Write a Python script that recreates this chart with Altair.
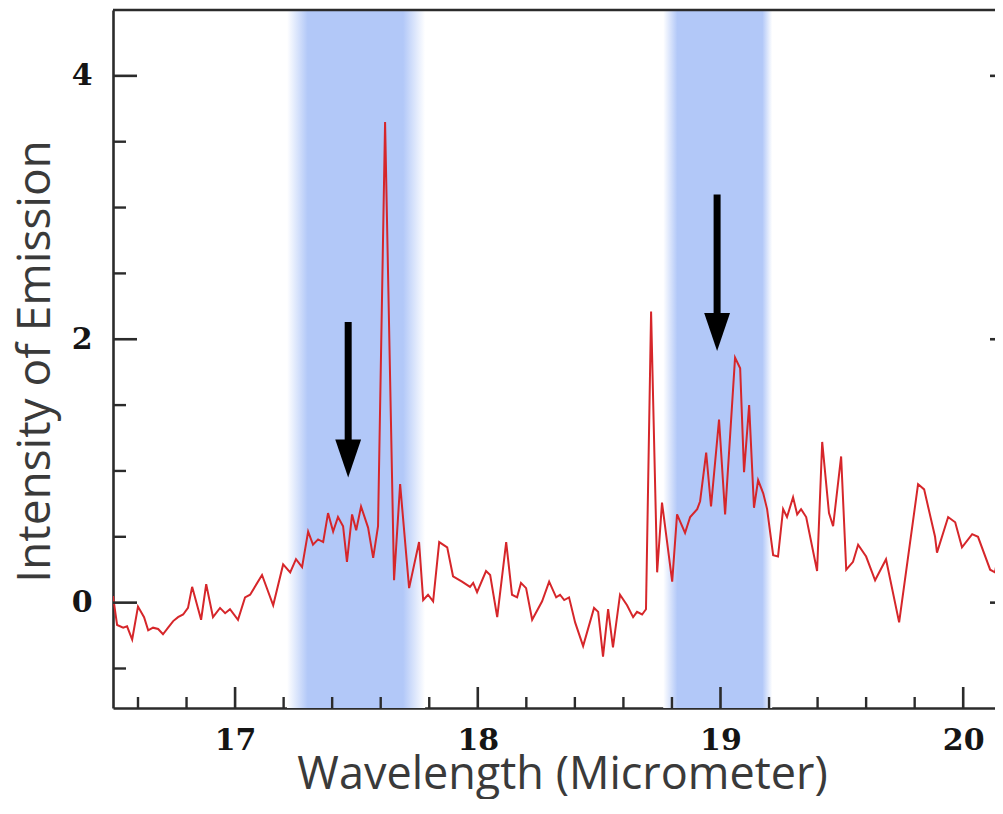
import altair as alt
import pandas as pd

# ---- spectrum (wavelength in micrometer, intensity of emission) ----
wavelength = [
    16.497, 16.514, 16.539, 16.555, 16.576, 16.600, 16.625, 16.642, 16.662, 16.683,
    16.703, 16.724, 16.745, 16.765, 16.786, 16.806, 16.823, 16.860, 16.881, 16.909,
    16.938, 16.959, 16.979, 17.012, 17.041, 17.062, 17.111, 17.157, 17.198, 17.227,
    17.251, 17.276, 17.301, 17.321, 17.342, 17.363, 17.383, 17.404, 17.424, 17.445,
    17.461, 17.482, 17.499, 17.519, 17.548, 17.569, 17.589, 17.618, 17.655, 17.680,
    17.717, 17.758, 17.775, 17.795, 17.816, 17.841, 17.874, 17.898, 17.935, 17.968,
    17.981, 17.997, 18.034, 18.051, 18.080, 18.117, 18.141, 18.162, 18.178, 18.199,
    18.224, 18.265, 18.294, 18.323, 18.339, 18.356, 18.376, 18.401, 18.434, 18.479,
    18.496, 18.516, 18.537, 18.557, 18.586, 18.615, 18.640, 18.656, 18.677, 18.693,
    18.714, 18.739, 18.759, 18.801, 18.821, 18.854, 18.875, 18.904, 18.916, 18.941,
    18.961, 18.994, 19.019, 19.060, 19.081, 19.097, 19.118, 19.138, 19.155, 19.176,
    19.192, 19.217, 19.237, 19.258, 19.274, 19.299, 19.316, 19.332, 19.353, 19.398,
    19.419, 19.447, 19.464, 19.497, 19.518, 19.546, 19.567, 19.600, 19.637, 19.682,
    19.736, 19.814, 19.839, 19.884, 19.892, 19.938, 19.967, 19.995, 20.037, 20.061,
    20.111, 20.131, 20.164,
]
intensity = [
    0.05, -0.17, -0.19, -0.18, -0.28, -0.03, -0.11, -0.21, -0.19, -0.20,
    -0.24, -0.19, -0.14, -0.11, -0.09, -0.04, 0.12, -0.13, 0.14, -0.11,
    -0.04, -0.08, -0.05, -0.13, 0.04, 0.06, 0.21, -0.02, 0.29, 0.23,
    0.33, 0.27, 0.54, 0.44, 0.48, 0.46, 0.68, 0.54, 0.65, 0.58,
    0.31, 0.67, 0.55, 0.73, 0.57, 0.34, 0.58, 3.65, 0.17, 0.90,
    0.11, 0.46, 0.02, 0.06, 0.01, 0.46, 0.42, 0.20, 0.16, 0.12,
    0.15, 0.08, 0.24, 0.21, -0.11, 0.46, 0.06, 0.04, 0.15, 0.11,
    -0.13, 0.01, 0.16, 0.04, 0.06, 0.02, 0.04, -0.15, -0.33, -0.04,
    -0.07, -0.41, -0.05, -0.34, 0.06, -0.02, -0.11, -0.07, -0.09, -0.05,
    2.21, 0.23, 0.76, 0.16, 0.67, 0.53, 0.65, 0.71, 0.77, 1.14,
    0.73, 1.39, 0.67, 1.86, 1.78, 0.99, 1.50, 0.72, 0.93, 0.83,
    0.71, 0.36, 0.35, 0.71, 0.65, 0.80, 0.67, 0.71, 0.65, 0.24,
    1.22, 0.68, 0.58, 1.11, 0.25, 0.31, 0.44, 0.35, 0.17, 0.33,
    -0.15, 0.90, 0.86, 0.50, 0.38, 0.65, 0.61, 0.42, 0.52, 0.50,
    0.25, 0.23, 0.57,
]

# ---- highlighted wavelength bands ----
band_start = [17.214, 18.764]
band_end = [17.783, 19.213]

# ---- arrows (x, tail, tip) ----
arrow_x = [17.466, 18.986]
arrow_tail = [2.13, 3.10]
arrow_tip = [0.95, 1.91]

# ---- ticks and labels ----
x_labels = [17, 18, 19, 20]
x_major_ticks = [17, 18, 19, 20]
x_minor_ticks = [16.6, 16.8, 17.2, 17.4, 17.6, 17.8, 18.2, 18.4, 18.6, 18.8,
                 19.2, 19.4, 19.6, 19.8]
y_labels = [0, 2, 4]
y_major_ticks = [0, 2, 4]
y_minor_ticks = [-0.5, 0.5, 1.0, 1.5, 2.5, 3.0, 3.5]

x_domain = [16.497, 20.131]
y_domain = [-0.8, 4.5]

W, H = 882, 698
AX = "#2b2b2b"
BLUE = "#b2c8f8"
TITLE_FONT = "Open Sans"

xs = alt.Scale(domain=x_domain, nice=False, zero=False)
ys = alt.Scale(domain=y_domain, nice=False, zero=False)

xaxis = alt.Axis(
    values=x_labels, format="d", title="Wavelength (Micrometer)",
    titleFont=TITLE_FONT, titleFontSize=45, titleFontWeight="normal",
    titleColor="#3a3a3a", titleX=449, titleY=80,
    titleAlign="center", titleBaseline="alphabetic",
    labelFont="DejaVu Serif", labelFontWeight="bold", labelFontSize=30,
    labelColor="#151515", labelPadding=17, labelFlush=False,
    ticks=False, tickSize=0, grid=False,
    domainColor=AX, domainWidth=2.6,
)
yaxis = alt.Axis(
    values=y_labels, format="d", title="Intensity of Emission",
    titleFont=TITLE_FONT, titleFontSize=46, titleFontWeight="normal",
    titleColor="#3a3a3a", titleX=-64, titleY=351, titleAngle=270,
    titleAlign="center", titleBaseline="alphabetic",
    labelFont="DejaVu Serif", labelFontWeight="bold", labelFontSize=30,
    labelColor="#151515", labelPadding=21, labelFlush=False,
    ticks=False, tickSize=0, grid=False,
    domainColor=AX, domainWidth=2.6,
)

spec_df = pd.DataFrame({"wl": wavelength, "val": intensity})
band_df = pd.DataFrame({"b0": band_start, "b1": band_end})
arrow_df = pd.DataFrame({"ax": arrow_x, "tail": arrow_tail, "tip": arrow_tip})


def band_layer(i, s1, s2):
    grad = alt.LinearGradient(
        gradient="linear",
        stops=[
            alt.GradientStop(color="white", offset=0),
            alt.GradientStop(color=BLUE, offset=s1),
            alt.GradientStop(color=BLUE, offset=s2),
            alt.GradientStop(color="white", offset=1),
        ],
        x1=0, x2=1, y1=0, y2=0,
    )
    return alt.Chart(band_df.iloc[[i]]).mark_rect(color=grad).encode(
        x=alt.X("b0:Q", scale=xs, axis=xaxis),
        x2="b1:Q",
        y=alt.value(0),
        y2=alt.value(H),
    )


band1 = band_layer(0, 0.15, 0.84)
band2 = band_layer(1, 0.13, 0.91)

line = alt.Chart(spec_df).mark_line(color="#d6262a", strokeWidth=2, clip=True).encode(
    x=alt.X("wl:Q", scale=xs, axis=xaxis),
    y=alt.Y("val:Q", scale=ys, axis=yaxis),
)

shaft = alt.Chart(arrow_df).transform_calculate(
    shaft_end="datum.tip + 0.2"
).mark_rule(color="black", strokeWidth=7, strokeCap="butt").encode(
    x=alt.X("ax:Q", scale=xs, axis=xaxis),
    y=alt.Y("tail:Q", scale=ys, axis=yaxis),
    y2="shaft_end:Q",
)
head = alt.Chart(arrow_df).mark_point(
    shape="M-1.36,-4 L1.36,-4 L0,0 Z", filled=True, color="black",
    opacity=1, size=361, strokeWidth=0,
).encode(
    x=alt.X("ax:Q", scale=xs, axis=xaxis),
    y=alt.Y("tip:Q", scale=ys, axis=yaxis),
)

# inward ticks
yl_major = alt.Chart(pd.DataFrame({"t": y_major_ticks})).mark_rule(color=AX, strokeWidth=2.6).encode(
    y=alt.Y("t:Q", scale=ys, axis=yaxis), x=alt.value(0), x2=alt.value(24))
yl_minor = alt.Chart(pd.DataFrame({"t": y_minor_ticks})).mark_rule(color=AX, strokeWidth=2.4).encode(
    y=alt.Y("t:Q", scale=ys, axis=yaxis), x=alt.value(0), x2=alt.value(13))
yr_major = alt.Chart(pd.DataFrame({"t": y_major_ticks})).mark_rule(color=AX, strokeWidth=2.6).encode(
    y=alt.Y("t:Q", scale=ys, axis=yaxis), x=alt.value(W - 5), x2=alt.value(W))
xb_major = alt.Chart(pd.DataFrame({"t": x_major_ticks})).mark_rule(color=AX, strokeWidth=2.6).encode(
    x=alt.X("t:Q", scale=xs, axis=xaxis), y=alt.value(H - 21), y2=alt.value(H))
xb_minor = alt.Chart(pd.DataFrame({"t": x_minor_ticks})).mark_rule(color=AX, strokeWidth=2.4).encode(
    x=alt.X("t:Q", scale=xs, axis=xaxis), y=alt.value(H - 11), y2=alt.value(H))

top_frame = alt.Chart(pd.DataFrame({"k": [0]})).mark_rule(color=AX, strokeWidth=2.6).encode(
    y=alt.value(0), x=alt.value(0), x2=alt.value(W))

chart = alt.layer(
    band1, band2, line, shaft, head,
    yl_major, yl_minor, yr_major, xb_major, xb_minor, top_frame,
).properties(
    width=W, height=H,
    autosize=alt.AutoSizeParams(type="none"),
    padding={"left": 105, "top": 2, "right": 0, "bottom": 91},
).configure_view(stroke=None)

chart.save("out.html", embed_options={"renderer": "svg", "actions": False})
